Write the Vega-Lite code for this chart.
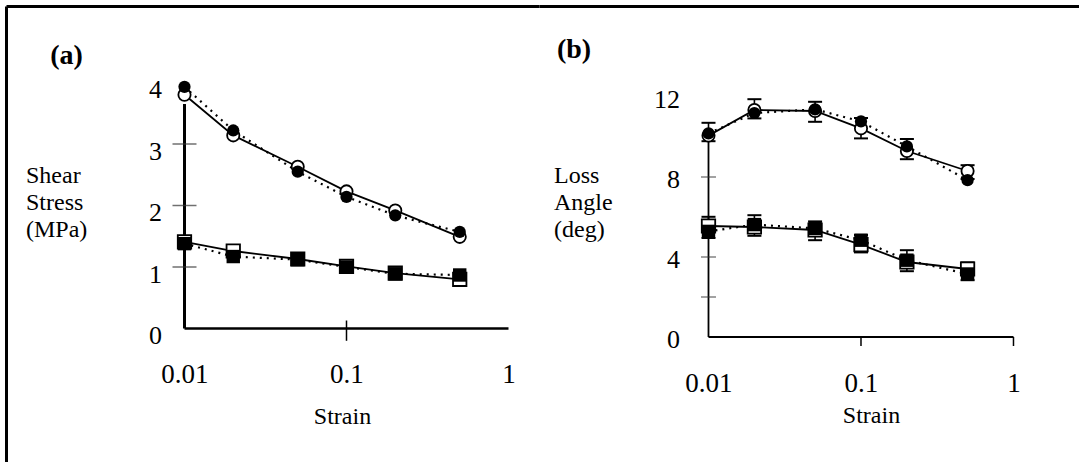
{
  "$schema": "https://vega.github.io/schema/vega-lite/v6.json",
  "background": "white",
  "padding": {"left": 6, "top": 6, "right": 0, "bottom": 0},
  "bounds": "flush",
  "spacing": 0,
  "config": {
    "view": {"stroke": null},
    "font": "Liberation Serif",
    "axis": {"grid": false, "labelColor": "black", "titleColor": "black", "labelFont": "Liberation Serif", "titleFont": "Liberation Serif", "titleFontWeight": "normal"}
  },
  "datasets": {
    "a": [
      {"strain": 0.01, "val": 3.80, "fill": "open", "shape": "circle"},
      {"strain": 0.02, "val": 3.14, "fill": "open", "shape": "circle"},
      {"strain": 0.05, "val": 2.63, "fill": "open", "shape": "circle"},
      {"strain": 0.1, "val": 2.23, "fill": "open", "shape": "circle"},
      {"strain": 0.2, "val": 1.92, "fill": "open", "shape": "circle"},
      {"strain": 0.5, "val": 1.49, "fill": "open", "shape": "circle"},
      {"strain": 0.01, "val": 3.93, "fill": "filled", "shape": "circle"},
      {"strain": 0.02, "val": 3.22, "fill": "filled", "shape": "circle"},
      {"strain": 0.05, "val": 2.55, "fill": "filled", "shape": "circle"},
      {"strain": 0.1, "val": 2.14, "fill": "filled", "shape": "circle"},
      {"strain": 0.2, "val": 1.84, "fill": "filled", "shape": "circle"},
      {"strain": 0.5, "val": 1.57, "fill": "filled", "shape": "circle"},
      {"strain": 0.01, "val": 1.41, "fill": "open", "shape": "square"},
      {"strain": 0.02, "val": 1.26, "fill": "open", "shape": "square"},
      {"strain": 0.05, "val": 1.13, "fill": "open", "shape": "square"},
      {"strain": 0.1, "val": 1.01, "fill": "open", "shape": "square"},
      {"strain": 0.2, "val": 0.90, "fill": "open", "shape": "square"},
      {"strain": 0.5, "val": 0.80, "fill": "open", "shape": "square"},
      {"strain": 0.01, "val": 1.38, "fill": "filled", "shape": "square"},
      {"strain": 0.02, "val": 1.17, "fill": "filled", "shape": "square"},
      {"strain": 0.05, "val": 1.12, "fill": "filled", "shape": "square"},
      {"strain": 0.1, "val": 1.00, "fill": "filled", "shape": "square"},
      {"strain": 0.2, "val": 0.89, "fill": "filled", "shape": "square"},
      {"strain": 0.5, "val": 0.87, "fill": "filled", "shape": "square"}
    ],
    "b": [
      {"strain": 0.01, "val": 10.07, "fill": "open", "shape": "circle"},
      {"strain": 0.02, "val": 11.35, "fill": "open", "shape": "circle"},
      {"strain": 0.05, "val": 11.30, "fill": "open", "shape": "circle"},
      {"strain": 0.1, "val": 10.43, "fill": "open", "shape": "circle"},
      {"strain": 0.2, "val": 9.30, "fill": "open", "shape": "circle"},
      {"strain": 0.5, "val": 8.30, "fill": "open", "shape": "circle"},
      {"strain": 0.01, "val": 10.18, "fill": "filled", "shape": "circle"},
      {"strain": 0.02, "val": 11.20, "fill": "filled", "shape": "circle"},
      {"strain": 0.05, "val": 11.38, "fill": "filled", "shape": "circle"},
      {"strain": 0.1, "val": 10.78, "fill": "filled", "shape": "circle"},
      {"strain": 0.2, "val": 9.53, "fill": "filled", "shape": "circle"},
      {"strain": 0.5, "val": 7.84, "fill": "filled", "shape": "circle"},
      {"strain": 0.01, "val": 5.55, "fill": "open", "shape": "square"},
      {"strain": 0.02, "val": 5.50, "fill": "open", "shape": "square"},
      {"strain": 0.05, "val": 5.35, "fill": "open", "shape": "square"},
      {"strain": 0.1, "val": 4.62, "fill": "open", "shape": "square"},
      {"strain": 0.2, "val": 3.75, "fill": "open", "shape": "square"},
      {"strain": 0.5, "val": 3.40, "fill": "open", "shape": "square"},
      {"strain": 0.01, "val": 5.28, "fill": "filled", "shape": "square"},
      {"strain": 0.02, "val": 5.62, "fill": "filled", "shape": "square"},
      {"strain": 0.05, "val": 5.43, "fill": "filled", "shape": "square"},
      {"strain": 0.1, "val": 4.84, "fill": "filled", "shape": "square"},
      {"strain": 0.2, "val": 3.84, "fill": "filled", "shape": "square"},
      {"strain": 0.5, "val": 3.15, "fill": "filled", "shape": "square"}
    ],
    "berr": [
      {"strain": 0.01, "lo": 9.79, "hi": 10.71},
      {"strain": 0.02, "lo": 10.93, "hi": 11.89},
      {"strain": 0.05, "lo": 10.76, "hi": 11.76},
      {"strain": 0.1, "lo": 9.93, "hi": 10.95},
      {"strain": 0.2, "lo": 8.89, "hi": 9.9},
      {"strain": 0.5, "lo": 7.9, "hi": 8.59},
      {"strain": 0.01, "lo": 4.95, "hi": 6.01},
      {"strain": 0.02, "lo": 5.06, "hi": 6.09},
      {"strain": 0.05, "lo": 4.84, "hi": 5.78},
      {"strain": 0.1, "lo": 4.23, "hi": 5.1},
      {"strain": 0.2, "lo": 3.29, "hi": 4.34},
      {"strain": 0.5, "lo": 2.84, "hi": 3.73}
    ]
  },
  "hconcat": [
    {
      "width": 533,
      "height": 456,
      "data": {"name": "a"},
      "resolve": {"axis": {"x": "independent", "y": "independent"}},
      "layer": [
        {
          "data": {"values": [{}]},
          "mark": {"type": "rule", "stroke": "black", "strokeWidth": 2.5},
          "encoding": {
            "x": {"datum": 0.01, "type": "quantitative", "scale": {"type": "log", "domain": [0.000791, 1.5427], "nice": false},
              "axis": {"orient": "top", "domain": true, "domainColor": "black", "domainWidth": 3, "ticks": false, "labels": false, "title": "(a)", "titleFontSize": 28, "titleFontWeight": "bold", "titleX": 60, "titleY": 57.5, "titleAlign": "center", "titleBaseline": "alphabetic"}},
            "x2": {"datum": 1},
            "y": {"datum": 0, "type": "quantitative", "scale": {"domain": [-2.1707, 5.2439], "nice": false, "zero": false},
              "axis": {"orient": "left", "domain": true, "domainColor": "black", "domainWidth": 3, "ticks": false, "labels": false, "title": null}}
          }
        },
        {
          "data": {"values": [{}]},
          "mark": {"type": "rule", "stroke": "black", "strokeWidth": 3},
          "encoding": {
            "x": {"datum": 0.01, "type": "quantitative", "scale": {"type": "log", "domain": [0.000791, 1.5427], "nice": false}, "axis": null},
            "y": {"datum": 0, "type": "quantitative", "scale": {"domain": [-2.1707, 5.2439], "nice": false, "zero": false}, "axis": null},
            "y2": {"datum": 3.65}
          }
        },
        {
          "data": {"values": [{"v": 1}, {"v": 2}, {"v": 3}]},
          "mark": {"type": "tick", "orient": "horizontal", "size": 24, "thickness": 1.5, "color": "#333333", "strokeDash": [6, 3]},
          "encoding": {
            "x": {"datum": 0.01, "type": "quantitative", "scale": {"type": "log", "domain": [0.000791, 1.5427], "nice": false}, "axis": null},
            "y": {"field": "v", "type": "quantitative", "scale": {"domain": [-2.1707, 5.2439], "nice": false, "zero": false}, "axis": null}
          }
        },
        {
          "data": {"values": [{}]},
          "mark": {"type": "rule", "stroke": "black", "strokeWidth": 1.5},
          "encoding": {
            "x": {"datum": 0.1, "type": "quantitative", "scale": {"type": "log", "domain": [0.000791, 1.5427], "nice": false}, "axis": null},
            "y": {"datum": -0.2, "type": "quantitative", "scale": {"domain": [-2.1707, 5.2439], "nice": false, "zero": false}, "axis": null},
            "y2": {"datum": 0.13}
          }
        },
        {
          "transform": [{"filter": "datum.fill == 'open'"}],
          "mark": {"type": "line", "stroke": "black", "strokeWidth": 1.8},
          "encoding": {
            "x": {"field": "strain", "type": "quantitative", "scale": {"type": "log", "domain": [0.000791, 1.5427], "nice": false},
              "axis": {"orient": "bottom", "offset": -133.5, "values": [0.01, 0.1, 1], "format": "~g", "domain": false, "ticks": false, "tickSize": 0, "labelFontSize": 27, "labelBaseline": "alphabetic", "labelAlign": "center", "labelPadding": 54, "labelOverlap": false, "labelFlush": false, "labelBound": false,
                "title": "Strain", "titleFontSize": 24, "titleX": 336, "titleY": 95, "titleAlign": "center", "titleBaseline": "alphabetic"}},
            "y": {"field": "val", "type": "quantitative", "scale": {"domain": [-2.1707, 5.2439], "nice": false, "zero": false},
              "axis": {"orient": "left", "offset": -178.5, "values": [0, 1, 2, 3, 4], "format": "d", "domain": false, "ticks": false, "tickSize": 0, "labelFontSize": 26, "labelAlign": "right", "labelBaseline": "middle", "labelPadding": 23, "labelOffset": 7, "labelOverlap": false, "labelFlush": false, "labelBound": false,
                "title": ["Shear", "Stress", "(MPa)"], "titleAngle": 0, "titleFontSize": 24, "titleLineHeight": 27, "titleAlign": "left", "titleBaseline": "alphabetic", "titleX": -159, "titleY": 176.5}},
            "detail": {"field": "shape"}
          }
        },
        {
          "transform": [{"filter": "datum.fill == 'filled'"}],
          "mark": {"type": "line", "stroke": "black", "strokeWidth": 2.2, "strokeDash": [2, 5]},
          "encoding": {
            "x": {"field": "strain", "type": "quantitative", "scale": {"type": "log", "domain": [0.000791, 1.5427], "nice": false}, "axis": null},
            "y": {"field": "val", "type": "quantitative", "scale": {"domain": [-2.1707, 5.2439], "nice": false, "zero": false}, "axis": null},
            "detail": {"field": "shape"}
          }
        },
        {
          "transform": [{"filter": "datum.fill == 'open'"}],
          "mark": {"type": "point", "filled": true, "fill": "white", "stroke": "black", "strokeWidth": 1.8, "opacity": 1},
          "encoding": {
            "x": {"field": "strain", "type": "quantitative", "scale": {"type": "log", "domain": [0.000791, 1.5427], "nice": false}, "axis": null},
            "y": {"field": "val", "type": "quantitative", "scale": {"domain": [-2.1707, 5.2439], "nice": false, "zero": false}, "axis": null},
            "shape": {"field": "shape", "type": "nominal", "scale": {"domain": ["circle", "square"], "range": ["circle", "square"]}, "legend": null},
            "size": {"field": "shape", "type": "nominal", "scale": {"domain": ["circle", "square"], "range": [150, 180]}, "legend": null}
          }
        },
        {
          "transform": [{"filter": "datum.fill == 'filled'"}],
          "mark": {"type": "point", "filled": true, "fill": "black", "opacity": 1},
          "encoding": {
            "x": {"field": "strain", "type": "quantitative", "scale": {"type": "log", "domain": [0.000791, 1.5427], "nice": false}, "axis": null},
            "y": {"field": "val", "type": "quantitative", "scale": {"domain": [-2.1707, 5.2439], "nice": false, "zero": false}, "axis": null},
            "shape": {"field": "shape", "type": "nominal", "scale": {"domain": ["circle", "square"], "range": ["circle", "square"]}, "legend": null},
            "size": {"field": "shape", "type": "nominal", "scale": {"domain": ["circle", "square"], "range": [150, 180]}, "legend": null}
          }
        }
      ]
    },
    {
      "width": 540,
      "height": 456,
      "data": {"name": "b"},
      "resolve": {"axis": {"x": "independent", "y": "independent"}},
      "layer": [
        {
          "data": {"values": [{}]},
          "mark": {"type": "rule", "stroke": "black", "strokeWidth": 2},
          "encoding": {
            "x": {"datum": 0.01, "type": "quantitative", "scale": {"type": "log", "domain": [0.0007736, 2.6892], "nice": false},
              "axis": {"orient": "top", "domain": true, "domainColor": "black", "domainWidth": 3, "ticks": false, "labels": false, "title": "(b)", "titleFontSize": 28, "titleFontWeight": "bold", "titleX": 34.5, "titleY": 51.5, "titleAlign": "center", "titleBaseline": "alphabetic"}},
            "x2": {"datum": 1},
            "y": {"datum": 0, "type": "quantitative", "scale": {"domain": [-6.25, 16.55], "nice": false, "zero": false}, "axis": null}
          }
        },
        {
          "data": {"values": [{}]},
          "mark": {"type": "rule", "stroke": "black", "strokeWidth": 1.8},
          "encoding": {
            "x": {"datum": 0.01, "type": "quantitative", "scale": {"type": "log", "domain": [0.0007736, 2.6892], "nice": false}, "axis": null},
            "y": {"datum": 0, "type": "quantitative", "scale": {"domain": [-6.25, 16.55], "nice": false, "zero": false}, "axis": null},
            "y2": {"datum": 10.0}
          }
        },
        {
          "data": {"values": [{"v": 2}, {"v": 4}, {"v": 8}]},
          "mark": {"type": "tick", "orient": "horizontal", "size": 15, "thickness": 1.3, "color": "#333333"},
          "encoding": {
            "x": {"datum": 0.01, "type": "quantitative", "scale": {"type": "log", "domain": [0.0007736, 2.6892], "nice": false}, "axis": null},
            "y": {"field": "v", "type": "quantitative", "scale": {"domain": [-6.25, 16.55], "nice": false, "zero": false}, "axis": null}
          }
        },
        {
          "data": {"values": [{"s": 0.1}, {"s": 1}]},
          "mark": {"type": "rule", "stroke": "black", "strokeWidth": 1.5},
          "encoding": {
            "x": {"field": "s", "type": "quantitative", "scale": {"type": "log", "domain": [0.0007736, 2.6892], "nice": false}, "axis": null},
            "y": {"datum": 0, "type": "quantitative", "scale": {"domain": [-6.25, 16.55], "nice": false, "zero": false}, "axis": null},
            "y2": {"datum": -0.45}
          }
        },
        {
          "data": {"name": "berr"},
          "mark": {"type": "rule", "stroke": "black", "strokeWidth": 1.6},
          "encoding": {
            "x": {"field": "strain", "type": "quantitative", "scale": {"type": "log", "domain": [0.0007736, 2.6892], "nice": false}, "axis": null},
            "y": {"field": "lo", "type": "quantitative", "scale": {"domain": [-6.25, 16.55], "nice": false, "zero": false}, "axis": null},
            "y2": {"field": "hi"}
          }
        },
        {
          "data": {"name": "berr"},
          "mark": {"type": "tick", "orient": "horizontal", "size": 14, "thickness": 2, "color": "black", "opacity": 1},
          "encoding": {
            "x": {"field": "strain", "type": "quantitative", "scale": {"type": "log", "domain": [0.0007736, 2.6892], "nice": false}, "axis": null},
            "y": {"field": "lo", "type": "quantitative", "scale": {"domain": [-6.25, 16.55], "nice": false, "zero": false}, "axis": null}
          }
        },
        {
          "data": {"name": "berr"},
          "mark": {"type": "tick", "orient": "horizontal", "size": 14, "thickness": 2, "color": "black", "opacity": 1},
          "encoding": {
            "x": {"field": "strain", "type": "quantitative", "scale": {"type": "log", "domain": [0.0007736, 2.6892], "nice": false}, "axis": null},
            "y": {"field": "hi", "type": "quantitative", "scale": {"domain": [-6.25, 16.55], "nice": false, "zero": false}, "axis": null}
          }
        },
        {
          "transform": [{"filter": "datum.fill == 'open'"}],
          "mark": {"type": "line", "stroke": "black", "strokeWidth": 1.8},
          "encoding": {
            "x": {"field": "strain", "type": "quantitative", "scale": {"type": "log", "domain": [0.0007736, 2.6892], "nice": false},
              "axis": {"orient": "bottom", "offset": -125, "values": [0.01, 0.1, 1], "format": "~g", "domain": false, "ticks": false, "tickSize": 0, "labelFontSize": 27, "labelBaseline": "alphabetic", "labelAlign": "center", "labelPadding": 54.5, "labelOverlap": false, "labelFlush": false, "labelBound": false,
                "title": "Strain", "titleFontSize": 24, "titleX": 332, "titleY": 85.5, "titleAlign": "center", "titleBaseline": "alphabetic"}},
            "y": {"field": "val", "type": "quantitative", "scale": {"domain": [-6.25, 16.55], "nice": false, "zero": false},
              "axis": {"orient": "left", "offset": -169.5, "values": [0, 4, 8, 12], "format": "d", "domain": false, "ticks": false, "tickSize": 0, "labelFontSize": 26, "labelAlign": "right", "labelBaseline": "middle", "labelPadding": 29, "labelOffset": 2, "labelOverlap": false, "labelFlush": false, "labelBound": false,
                "title": ["Loss", "Angle", "(deg)"], "titleAngle": 0, "titleFontSize": 24, "titleLineHeight": 27, "titleAlign": "left", "titleBaseline": "alphabetic", "titleX": -155, "titleY": 176.5}},
            "detail": {"field": "shape"}
          }
        },
        {
          "transform": [{"filter": "datum.fill == 'filled'"}],
          "mark": {"type": "line", "stroke": "black", "strokeWidth": 2.2, "strokeDash": [2, 5]},
          "encoding": {
            "x": {"field": "strain", "type": "quantitative", "scale": {"type": "log", "domain": [0.0007736, 2.6892], "nice": false}, "axis": null},
            "y": {"field": "val", "type": "quantitative", "scale": {"domain": [-6.25, 16.55], "nice": false, "zero": false}, "axis": null},
            "detail": {"field": "shape"}
          }
        },
        {
          "transform": [{"filter": "datum.fill == 'open'"}],
          "mark": {"type": "point", "filled": true, "fill": "white", "stroke": "black", "strokeWidth": 1.8, "opacity": 1},
          "encoding": {
            "x": {"field": "strain", "type": "quantitative", "scale": {"type": "log", "domain": [0.0007736, 2.6892], "nice": false}, "axis": null},
            "y": {"field": "val", "type": "quantitative", "scale": {"domain": [-6.25, 16.55], "nice": false, "zero": false}, "axis": null},
            "shape": {"field": "shape", "type": "nominal", "scale": {"domain": ["circle", "square"], "range": ["circle", "square"]}, "legend": null},
            "size": {"field": "shape", "type": "nominal", "scale": {"domain": ["circle", "square"], "range": [150, 180]}, "legend": null}
          }
        },
        {
          "transform": [{"filter": "datum.fill == 'filled'"}],
          "mark": {"type": "point", "filled": true, "fill": "black", "opacity": 1},
          "encoding": {
            "x": {"field": "strain", "type": "quantitative", "scale": {"type": "log", "domain": [0.0007736, 2.6892], "nice": false}, "axis": null},
            "y": {"field": "val", "type": "quantitative", "scale": {"domain": [-6.25, 16.55], "nice": false, "zero": false}, "axis": null},
            "shape": {"field": "shape", "type": "nominal", "scale": {"domain": ["circle", "square"], "range": ["circle", "square"]}, "legend": null},
            "size": {"field": "shape", "type": "nominal", "scale": {"domain": ["circle", "square"], "range": [150, 180]}, "legend": null}
          }
        }
      ]
    }
  ]
}
